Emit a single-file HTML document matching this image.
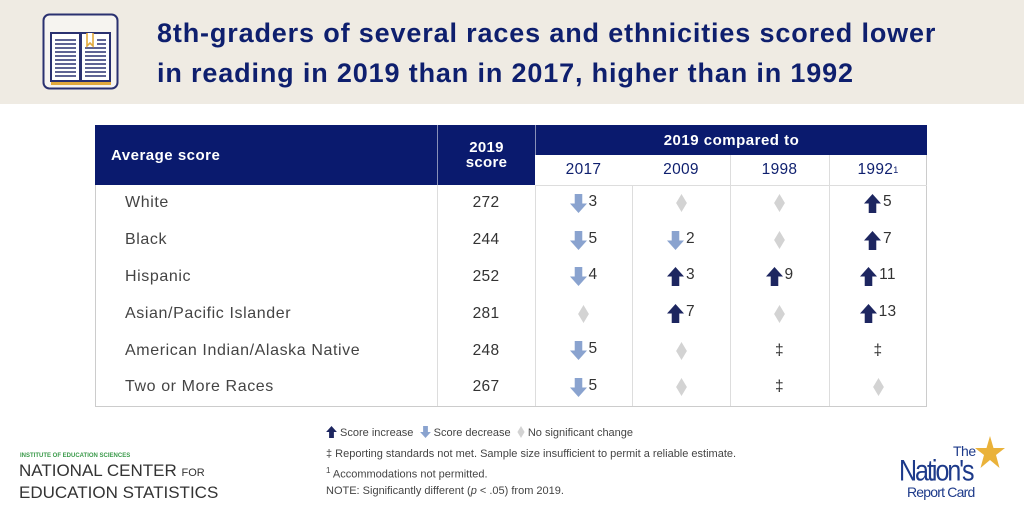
<!DOCTYPE html>
<html><head><meta charset="utf-8">
<style>
body{margin:0;width:1024px;height:512px;position:relative;background:#fff;font-family:"Liberation Sans",sans-serif;overflow:hidden}
.abs{position:absolute}
#banner{left:0;top:0;width:1024px;height:104px;background:#efebe3}
#title{left:157px;top:13px;font-size:27px;font-weight:bold;color:#0e1f6e;line-height:40px;letter-spacing:0.85px;white-space:nowrap}
.hdr{background:#0a1a6e;color:#fff}
.cell{position:absolute;display:flex;align-items:center;justify-content:center;font-size:15.5px;color:#333;letter-spacing:0.3px}
.lbl{justify-content:flex-start;padding-left:30px;color:#444;font-size:16px;letter-spacing:0.6px}
.vl{position:absolute;width:1px;background:#ddd}
.leg{font-size:11px;color:#444}
</style></head><body>
<div id="banner" class="abs"></div>
<svg class="abs" style="left:42px;top:13px" width="77" height="77">
<rect x="1.5" y="1.5" width="74" height="74" rx="6" fill="#f6f4f0" stroke="#2a3170" stroke-width="2"/>
<path d="M9 20h29v48H9zM39 20h29v48H39z" fill="#fff" stroke="#2a3170" stroke-width="2"/>
<path d="M9 69h60v3H9z" fill="#e2a93b"/>
<g stroke="#2a3170" stroke-width="1.6"><path d="M13 27h21M13 31h21M13 35h21M13 39h21M13 43h21M13 47h21M13 51h21M13 55h21M13 59h21M13 63h21M43 35h21M43 39h21M43 43h21M43 47h21M43 51h21M43 55h21M43 59h21M43 63h21M55 27h9M55 31h9"/></g>
<path d="M45 20v13l3-3 3 3V20" fill="#fff" stroke="#e2a93b" stroke-width="1.6"/>
</svg>
<div id="title" class="abs">8th-graders of several races and ethnicities scored lower<br>in reading in 2019 than in 2017, higher than in 1992</div>

<div id="table" class="abs" style="left:95px;top:125px;width:832px;height:282px;border:1px solid #ccc;border-top:none;box-sizing:border-box"></div>

<svg width="0" height="0" style="position:absolute">
<defs>
<symbol id="up" viewBox="0 0 18 20"><path d="M9 0L18 10H13V20H5V10H0Z" fill="#1d2660"/></symbol>
<symbol id="down" viewBox="0 0 18 20"><path d="M9 20L18 10H13V0H5V10H0Z" fill="#8aa3cf"/></symbol>
<symbol id="dia" viewBox="0 0 12 20"><path d="M6 0L12 10L6 20L0 10Z" fill="#d3d3d3"/></symbol>
</defs></svg>

<div class="abs leg" style="left:326px;top:426px">
<span><svg width="11" height="12" style="vertical-align:-2px"><use href="#up"/></svg> Score increase</span>&nbsp;
<span><svg width="11" height="12" style="vertical-align:-2px"><use href="#down"/></svg> Score decrease</span>&nbsp;
<span><svg width="8" height="12" style="vertical-align:-2px"><use href="#dia"/></svg> No significant change</span>
</div>
<div class="abs leg" style="left:326px;top:446px;line-height:16.5px">
‡ Reporting standards not met. Sample size insufficient to permit a reliable estimate.<br>
<sup style="font-size:8px">1</sup> Accommodations not permitted.<br>
NOTE: Significantly different (<i>p</i> &lt; .05) from 2019.
</div>
<div class="abs" style="left:20px;top:453px;font-size:6px;color:#3a9a4a;font-weight:bold">INSTITUTE OF EDUCATION SCIENCES</div>
<div class="abs" style="left:19px;top:461px;font-size:17px;color:#333;line-height:20px">NATIONAL CENTER <span style="font-size:11px">FOR</span><br>EDUCATION STATISTICS</div>
<div class="abs" style="left:895px;top:436px;width:115px;height:66px">
<svg class="abs" style="left:80px;top:0px" width="30" height="34"><path d="M15 0L18.5 12L30 12L21 19L24.5 32L15 24L5.5 32L9 19L0 12L11.5 12Z" fill="#eab23a"/></svg>
<div class="abs" style="left:58px;top:7px;font-size:14px;color:#1d3a8a;letter-spacing:-0.5px">The</div>
<div class="abs" style="left:4px;top:18px;font-size:25px;color:#1d3a8a;letter-spacing:-2px;transform:scaleY(1.2);transform-origin:top left">Nation's</div>
<div class="abs" style="left:12px;top:48px;font-size:14px;color:#1d3a8a;letter-spacing:-0.8px">Report Card</div>
</div>

<script>
const groups=["White","Black","Hispanic","Asian/Pacific Islander","American Indian/Alaska Native","Two or More Races"];
const scores2019=[272,244,252,281,248,267];
const years=["2017","2009","1998","1992"];
// change vs each year: positive=increase, negative=decrease, 0=no sig change, null=reporting standards not met
const change2017=[-3,-5,-4,0,-5,-5];
const change2009=[0,-2,3,7,0,0];
const change1998=[0,0,9,0,null,null];
const change1992=[5,7,11,13,null,0];
const changes=[change2017,change2009,change1998,change1992];

const T=document.body;
const L=95,TOP=125;
const colX=[535,632,730,829,927];
const rowY0=185,rowH=36.8;
function el(tag,cls,st,html){const e=document.createElement(tag);e.className=cls;Object.assign(e.style,st);if(html!==undefined)e.innerHTML=html;T.appendChild(e);return e;}
let e;
e=el('div','cell hdr lbl',{left:L+'px',top:TOP+'px',width:'342px',height:'60px',boxSizing:'border-box',paddingLeft:'16px',fontWeight:'bold',fontSize:'15px',letterSpacing:'0.5px',color:'#fff'},'Average score');


e=el('div','cell hdr',{left:'437px',top:TOP+'px',width:'98px',height:'60px',fontWeight:'bold',fontSize:'15px',color:'#fff',lineHeight:'15px',textAlign:'center',borderLeft:'1px solid #8890b8',boxSizing:'border-box'},'2019<br>score');


e=el('div','cell hdr',{left:'535px',top:TOP+'px',width:'392px',height:'30px',fontWeight:'bold',fontSize:'15px',letterSpacing:'0.5px',color:'#fff',borderLeft:'1px solid #8890b8',boxSizing:'border-box'},'2019 compared to');


years.forEach((y,i)=>{
  e=el('div','cell',{left:colX[i]+'px',top:(TOP+30)+'px',width:(colX[i+1]-colX[i])+'px',height:'30px',color:'#0e1f6e',fontSize:'15.5px'},y+(i==3?'<sup style="font-size:9px">1</sup>':''));
  
  
});
e=el('div','vl',{left:'535px',top:(TOP+60)+'px',width:'392px',height:'1px'});


[437,535,632,730,829].forEach((x,i)=>{
  e=el('div','vl',{left:x+'px',top:(i<3?rowY0:TOP+30)+'px',height:(i<3?221:251)+'px'});
  
  
});
groups.forEach((g,r)=>{
  const y=rowY0+r*rowH;
  e=el('div','cell lbl',{left:L+'px',top:y+'px',width:'342px',height:rowH+'px',boxSizing:'border-box'},g);
  
  
  e=el('div','cell',{left:'437px',top:y+'px',width:'98px',height:rowH+'px'},scores2019[r]);
  
  
  changes.forEach((arr,c)=>{
    const v=arr[r];let h;
    if(v===null)h='‡';
    else if(v===0)h='<svg width="11" height="18"><use href="#dia"/></svg>';
    else h='<svg width="17" height="19"><use href="#'+(v>0?'up':'down')+'"/></svg><span style="margin-left:2px;margin-top:-3px">'+Math.abs(v)+'</span>';
    e=el('div','cell',{left:colX[c]+'px',top:y+'px',width:(colX[c+1]-colX[c])+'px',height:rowH+'px'},h);
    
    
  });
});
</script>
</body></html>
